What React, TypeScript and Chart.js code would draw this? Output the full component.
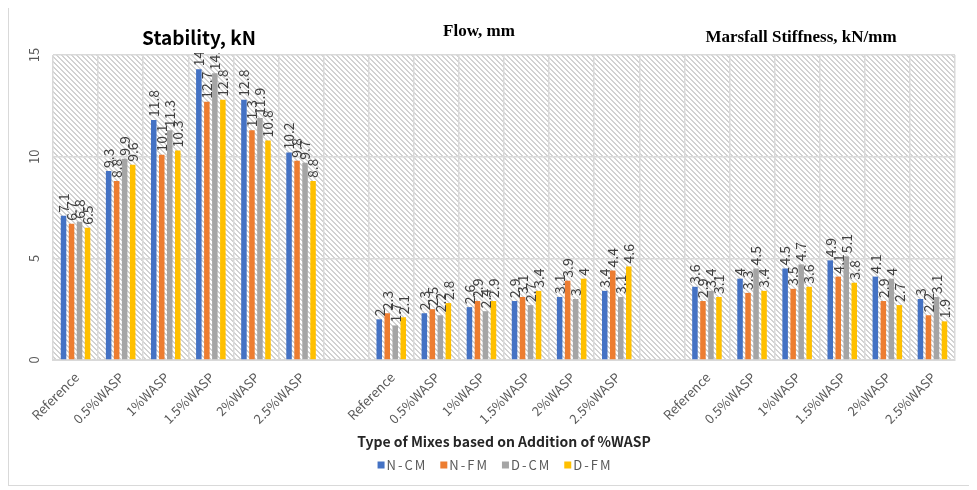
import React, { useEffect, useRef } from 'react';
import { Chart, registerables } from 'chart.js';

Chart.register(...registerables);

// Mix types shown in each of the three panels
const groupLabels = ['Reference', '0.5%WASP', '1%WASP', '1.5%WASP', '2%WASP', '2.5%WASP'];
// One empty category separates the panels
const categories = [...groupLabels, '', ...groupLabels, '', ...groupLabels];

const panelTitles = ['Stability, kN', 'Flow, mm', 'Marsfall Stiffness, kN/mm'];
const xAxisTitle = 'Type of Mixes based on Addition of %WASP';
const yTicks = [0, 5, 10, 15];

const seriesNames = ['N-CM', 'N-FM', 'D-CM', 'D-FM'];
const seriesColors = ['#4472C4', '#ED7D31', '#A5A5A5', '#FFC000'];

// Stability, kN
const stabilityNCM = [7.1, 9.3, 11.8, 14.3, 12.8, 10.2];
const stabilityNFM = [6.7, 8.8, 10.1, 12.7, 11.3, 9.8];
const stabilityDCM = [6.8, 9.9, 11.3, 14.1, 11.9, 9.7];
const stabilityDFM = [6.5, 9.6, 10.3, 12.8, 10.8, 8.8];

// Flow, mm
const flowNCM = [2, 2.3, 2.6, 2.9, 3.1, 3.4];
const flowNFM = [2.3, 2.5, 2.9, 3.1, 3.9, 4.4];
const flowDCM = [1.7, 2.2, 2.4, 2.7, 3, 3.1];
const flowDFM = [2.1, 2.8, 2.9, 3.4, 4, 4.6];

// Marshall stiffness, kN/mm
const stiffnessNCM = [3.6, 4, 4.5, 4.9, 4.1, 3];
const stiffnessNFM = [2.9, 3.3, 3.5, 4.1, 2.9, 2.2];
const stiffnessDCM = [3.4, 4.5, 4.7, 5.1, 4, 3.1];
const stiffnessDFM = [3.1, 3.4, 3.6, 3.8, 2.7, 1.9];

const joinPanels = (a: number[], b: number[], c: number[]) => [...a, null, ...b, null, ...c];

const seriesData = [
  joinPanels(stabilityNCM, flowNCM, stiffnessNCM),
  joinPanels(stabilityNFM, flowNFM, stiffnessNFM),
  joinPanels(stabilityDCM, flowDCM, stiffnessDCM),
  joinPanels(stabilityDFM, flowDFM, stiffnessDFM),
];

const LABEL_FONT = '"Noto Sans CJK SC", "Noto Sans", sans-serif';
const AXIS_GREY = '#595959';
const LABEL_GREY = '#404040';

// Diagonal hatch behind the plot
const hatchPlugin = {
  id: 'hatchBackground',
  beforeDatasetsDraw(chart: any) {
    const { ctx, chartArea: a } = chart;
    const n = 5;
    const tile = document.createElement('canvas');
    tile.width = n;
    tile.height = n;
    const t = tile.getContext('2d')!;
    t.fillStyle = '#ffffff';
    t.fillRect(0, 0, n, n);
    t.fillStyle = '#d2d2d2';
    for (let i = 0; i < n; i++) {
      t.fillRect(i, i, 1, 1);
      t.fillRect((i + 1) % n, i, 1, 1);
    }
    const pattern = ctx.createPattern(tile, 'repeat');
    ctx.save();
    ctx.globalCompositeOperation = 'destination-over';
    ctx.fillStyle = pattern;
    ctx.fillRect(a.left, a.top, a.right - a.left, a.bottom - a.top);
    ctx.restore();
  },
};

// Vertical value labels above every bar
const valueLabelPlugin = {
  id: 'valueLabels',
  afterDatasetsDraw(chart: any) {
    const { ctx } = chart;
    ctx.save();
    ctx.font = `14px ${LABEL_FONT}`;
    ctx.fillStyle = LABEL_GREY;
    ctx.textAlign = 'left';
    ctx.textBaseline = 'middle';
    chart.data.datasets.forEach((ds: any, di: number) => {
      const meta = chart.getDatasetMeta(di);
      meta.data.forEach((bar: any, i: number) => {
        const v = ds.data[i];
        if (v === null || v === undefined) return;
        ctx.save();
        ctx.translate(bar.x, bar.y - 3);
        ctx.rotate(-Math.PI / 2);
        ctx.fillText(String(v), 0, 0);
        ctx.restore();
      });
    });
    ctx.restore();
  },
};

// Axis texts, panel titles and legend
const decorPlugin = {
  id: 'decor',
  afterDraw(chart: any) {
    const { ctx, chartArea: a } = chart;
    const xScale = chart.scales.x;
    const yScale = chart.scales.y;
    ctx.save();

    // y tick labels, turned upright
    ctx.font = `13px ${LABEL_FONT}`;
    ctx.fillStyle = AXIS_GREY;
    ctx.textAlign = 'center';
    ctx.textBaseline = 'middle';
    yTicks.forEach((v) => {
      ctx.save();
      ctx.translate(a.left - 19, yScale.getPixelForValue(v));
      ctx.rotate(-Math.PI / 2);
      ctx.fillText(String(v), 0, 0);
      ctx.restore();
    });

    // category labels at 45 degrees
    ctx.textAlign = 'right';
    categories.forEach((c, i) => {
      if (!c) return;
      ctx.save();
      ctx.translate(xScale.getPixelForValue(i) + 1, a.bottom + 15);
      ctx.rotate(-Math.PI / 4);
      ctx.fillText(c, 0, 0);
      ctx.restore();
    });

    // panel titles
    ctx.textAlign = 'center';
    ctx.textBaseline = 'middle';
    ctx.fillStyle = '#ffffff';
    ctx.fillRect(124, 17, 132, 28);
    ctx.fillStyle = '#000000';
    ctx.font = `bold 19px ${LABEL_FONT}`;
    ctx.fillText(panelTitles[0], 190, 30);
    ctx.font = 'bold 17px "Liberation Serif", "Times New Roman", serif';
    ctx.fillText(panelTitles[1], 470, 24);
    ctx.fillText(panelTitles[2], 792, 30);

    // x axis title
    const midX = (a.left + a.right) / 2;
    ctx.font = `bold 14px ${LABEL_FONT}`;
    ctx.fillStyle = '#262626';
    ctx.fillText(xAxisTitle, midX, 434);

    // legend
    ctx.font = `13px ${LABEL_FONT}`;
    (ctx as any).letterSpacing = '2px';
    const sq = 7;
    const gapSq = 2;
    const gapItem = 13;
    const widths = seriesNames.map((s) => ctx.measureText(s).width);
    const total = widths.reduce((s, w) => s + sq + gapSq + w, 0) + gapItem * (seriesNames.length - 1);
    let x = midX - 9 - total / 2;
    const cy = 457;
    ctx.textAlign = 'left';
    seriesNames.forEach((s, i) => {
      ctx.fillStyle = seriesColors[i];
      ctx.fillRect(x, cy - sq / 2, sq, sq);
      ctx.fillStyle = AXIS_GREY;
      ctx.fillText(s, x + sq + gapSq, cy);
      x += sq + gapSq + widths[i] + gapItem;
    });
    ctx.restore();
  },
};

export default function App() {
  const canvasRef = useRef<HTMLCanvasElement | null>(null);

  useEffect(() => {
    if (!canvasRef.current) return;
    const chart = new Chart(canvasRef.current, {
      type: 'bar',
      data: {
        labels: categories,
        datasets: seriesNames.map((name, i) => ({
          label: name,
          data: seriesData[i],
          backgroundColor: seriesColors[i],
          borderWidth: 0,
          categoryPercentage: 0.71,
          barPercentage: 0.69,
        })),
      },
      options: {
        animation: false,
        responsive: true,
        maintainAspectRatio: false,
        layout: { padding: { left: 44, right: 17, top: 47, bottom: 125 } },
        plugins: {
          legend: { display: false },
          tooltip: { enabled: false },
          title: { display: false },
        },
        scales: {
          x: {
            grid: { offset: true, color: '#d9d9d9', lineWidth: 1.5, drawTicks: false },
            border: { color: '#d9d9d9', width: 2 },
            ticks: { display: false },
          },
          y: {
            min: 0,
            max: 15,
            ticks: { stepSize: 5, display: false },
            grid: { color: '#d9d9d9', lineWidth: 1.5, drawTicks: false },
            border: { display: false },
          },
        },
      },
      plugins: [hatchPlugin, valueLabelPlugin, decorPlugin],
    });
    return () => chart.destroy();
  }, []);

  return (
    <div
      style={{
        width: 963,
        height: 477,
        border: '1px solid #d9d9d9',
        marginTop: -1,
        position: 'relative',
        background: '#ffffff',
      }}
    >
      <canvas ref={canvasRef} />
    </div>
  );
}
